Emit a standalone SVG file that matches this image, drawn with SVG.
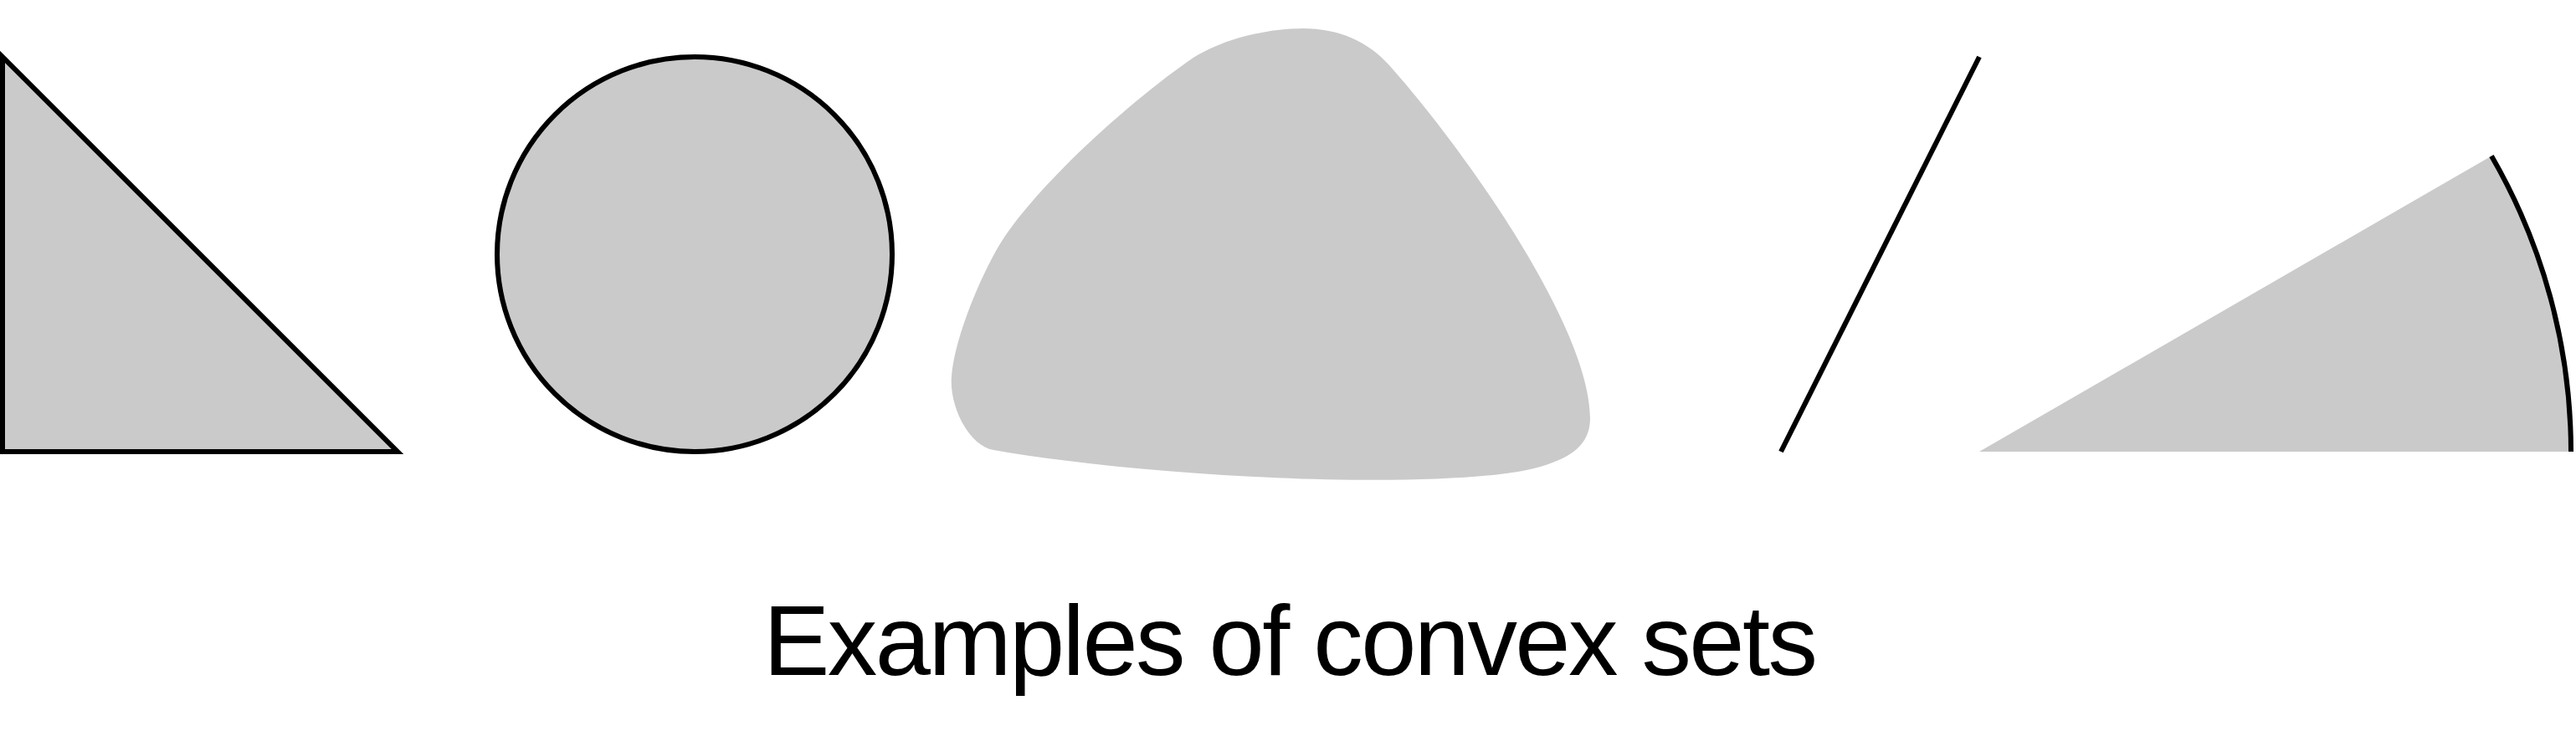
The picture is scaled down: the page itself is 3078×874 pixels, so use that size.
<svg xmlns="http://www.w3.org/2000/svg" width="3078" height="874" viewBox="0 0 3078 874">
<style>
.fill{fill:#cacaca}
.edge{stroke:#000;stroke-width:6;fill:none}
.shape{fill:#cacaca;stroke:#000;stroke-width:6}
.title{font-family:"Liberation Sans","DejaVu Sans",sans-serif;font-size:119px;fill:#000}
</style>
<rect width="3078" height="874" fill="#fff"/>
<g id="triangle">
<polygon class="shape" points="3,68 3,540 475,540" stroke-linejoin="miter"/>
</g>
<g id="disk">
<circle class="shape" cx="830" cy="304" r="236"/>
</g>
<g id="blob">
<path class="fill" d="M1420 73 C1461 44.3 1520 34 1557 34 C1600 34 1635 50 1660 78 C1746.6 175 1900 390 1900 500 C1900 530 1880 548 1833 560 C1733 585 1400 575 1187 538 C1157.4 532.9 1134 485 1137 450 C1140 410 1165 345 1190 300 C1228.9 230 1346.3 124.7 1420 73 Z"/>
</g>
<g id="segment">
<line class="edge" x1="2128" y1="540" x2="2365" y2="68"/>
</g>
<g id="sector">
<path class="fill" d="M2365 540 L2977 186.5 A707 707 0 0 1 3072 540 Z"/>
<path class="edge" d="M2977 186.5 A707 707 0 0 1 3072 540"/>
</g>
<g id="caption">
<text class="title" x="1542" y="807" text-anchor="middle" textLength="1260" lengthAdjust="spacing">Examples of convex sets</text>
</g>
</svg>
